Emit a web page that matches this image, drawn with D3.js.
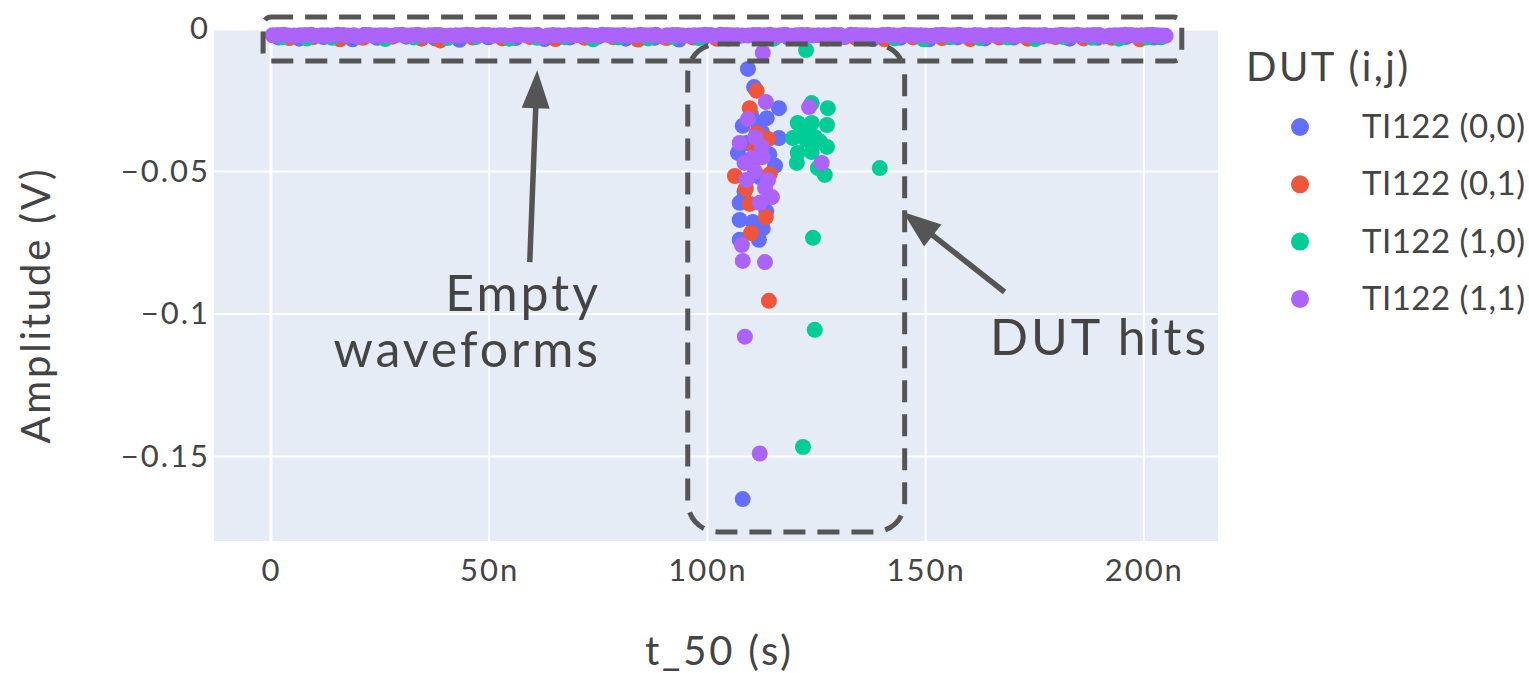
<!DOCTYPE html>
<html>
<head>
<meta charset="utf-8">
<script src="https://cdn.jsdelivr.net/npm/d3@7"></script>
<style>
  body { margin: 0; background: #fff; }
  svg text { font-family: Lato, "Open Sans", sans-serif; fill: #444; }
</style>
</head>
<body>
<div class="svg-container"></div>
<script>
// series names, in draw order
const seriesNames = ['TI122 (0,0)', 'TI122 (0,1)', 'TI122 (1,0)', 'TI122 (1,1)'];
const seriesColors = ['#636efa', '#ef553b', '#00cc96', '#ab63fa'];

// t_50 in ns, amplitude in V
const blueT = [1.8, 6.5, 12.1, 18.7, 24.3, 31.0, 37.6, 43.2, 49.8, 56.1, 62.7, 68.4, 75.0, 81.3, 87.9, 93.5, 99.2, 104.8, 118.6, 131.4, 137.9, 144.2, 150.8, 157.3, 163.6, 170.1, 176.7, 183.0, 189.4, 195.9, 202.3,
  109.3, 110.7, 116.4, 108.1, 113.6, 116.4, 107.0, 115.5, 107.4, 107.4, 110.4, 112.7, 111.8, 107.4, 108.1, 111.5, 109.0, 114.2, 112.0, 108.5, 113.5, 110.0, 112.5];
const blueA = [-0.0030, -0.0034, -0.0028, -0.0036, -0.0031, -0.0027, -0.0033, -0.0038, -0.0029, -0.0032, -0.0035, -0.0030, -0.0027, -0.0034, -0.0031, -0.0037, -0.0029, -0.0033, -0.0030, -0.0028, -0.0035, -0.0031, -0.0036, -0.0029, -0.0033, -0.0030, -0.0027, -0.0034, -0.0031, -0.0028, -0.0030,
  -0.0140, -0.0204, -0.0278, -0.0340, -0.0313, -0.0383, -0.0435, -0.0480, -0.0610, -0.0670, -0.0677, -0.0700, -0.0740, -0.0740, -0.1650, -0.0330, -0.0400, -0.0440, -0.0520, -0.0570, -0.0640, -0.0300, -0.0362];

const redT = [4.2, 9.6, 15.8, 21.1, 27.9, 34.5, 38.8, 46.3, 53.0, 59.4, 65.2, 71.9, 78.5, 84.1, 90.6, 96.8, 102.1, 121.3, 127.5, 134.0, 140.6, 147.1, 153.8, 160.2, 166.9, 173.4, 179.8, 186.2, 192.7, 199.1, 203.8,
  111.3, 109.7, 111.3, 113.9, 106.3, 114.3, 109.7, 113.4, 110.0, 114.1, 112.2, 108.8, 111.0];
const redA = [-0.0032, -0.0029, -0.0036, -0.0031, -0.0027, -0.0034, -0.0040, -0.0030, -0.0033, -0.0028, -0.0035, -0.0031, -0.0029, -0.0037, -0.0032, -0.0030, -0.0034, -0.0028, -0.0033, -0.0031, -0.0036, -0.0029, -0.0032, -0.0035, -0.0030, -0.0034, -0.0028, -0.0033, -0.0031, -0.0036, -0.0029,
  -0.0217, -0.0278, -0.0366, -0.0386, -0.0516, -0.0510, -0.0614, -0.0660, -0.0716, -0.0954, -0.0450, -0.0560, -0.0420];

const greenT = [2.6, 8.3, 14.0, 19.9, 26.2, 32.8, 40.5, 47.0, 54.6, 61.0, 67.3, 73.8, 79.6, 86.4, 92.2, 98.0, 106.5, 115.2, 129.8, 136.3, 142.9, 149.5, 155.6, 162.4, 168.8, 175.1, 181.6, 188.1, 194.3, 200.6, 204.0,
  122.6, 123.9, 127.6, 120.7, 123.9, 127.4, 119.6, 122.6, 124.6, 127.4, 120.7, 123.9, 120.5, 125.3, 126.9, 139.5, 124.2, 124.6, 121.9, 122.0, 125.8];
const greenA = [-0.0029, -0.0033, -0.0031, -0.0027, -0.0035, -0.0030, -0.0032, -0.0028, -0.0034, -0.0031, -0.0029, -0.0036, -0.0030, -0.0033, -0.0028, -0.0032, -0.0030, -0.0034, -0.0031, -0.0027, -0.0033, -0.0036, -0.0029, -0.0032, -0.0030, -0.0035, -0.0028, -0.0031, -0.0034, -0.0030, -0.0029,
  -0.0074, -0.0260, -0.0278, -0.0330, -0.0330, -0.0337, -0.0383, -0.0390, -0.0379, -0.0414, -0.0435, -0.0432, -0.0470, -0.0488, -0.0512, -0.0488, -0.0733, -0.1056, -0.1467, -0.0360, -0.0395];

const purpleT = [0.4, 2.9, 5.3, 7.8, 10.6, 12.9, 15.3, 17.7, 20.2, 22.6, 25.1, 27.4, 30.0, 32.3, 34.9, 37.5, 39.8, 42.4, 44.9, 47.3, 49.8, 52.4, 54.7, 57.2, 59.8, 62.3, 64.6, 67.2, 69.7, 72.1, 74.6, 77.2, 79.5, 82.1, 84.6, 87.0, 89.5, 92.1, 94.4, 97.0, 99.5, 101.9, 104.4, 106.8, 109.3, 111.8, 114.3, 116.7, 119.2, 121.6, 124.1, 126.7, 129.0, 131.6, 134.0, 136.5, 139.1, 141.4, 144.0, 146.5, 148.9, 151.4, 153.9, 156.3, 158.8, 161.3, 163.7, 166.2, 168.6, 171.2, 173.6, 176.1, 178.5, 181.0, 183.6, 185.9, 188.5, 190.9, 193.4, 195.8, 198.3, 200.8, 203.2, 205.0,
  112.7, 113.4, 109.3, 107.4, 112.5, 110.2, 112.7, 110.9, 109.0, 113.9, 113.2, 114.8, 112.0, 107.9, 108.1, 113.2, 123.3, 126.2, 108.6, 112.0, 111.0, 108.5];
const purpleA = [-0.0022, -0.0020, -0.0023, -0.0021, -0.0024, -0.0022, -0.0020, -0.0023, -0.0027, -0.0021,
  -0.0022, -0.0024, -0.0020, -0.0022, -0.0023, -0.0021, -0.0025, -0.0022, -0.0020, -0.0023,
  -0.0021, -0.0022, -0.0024, -0.0020, -0.0022, -0.0028, -0.0021, -0.0023, -0.0022, -0.0020,
  -0.0024, -0.0021, -0.0022, -0.0023, -0.0020, -0.0022, -0.0026, -0.0021, -0.0023, -0.0022,
  -0.0020, -0.0024, -0.0021, -0.0022, -0.0023, -0.0021, -0.0020, -0.0022, -0.0024, -0.0021,
  -0.0023, -0.0022, -0.0020, -0.0027, -0.0021, -0.0022, -0.0024, -0.0020, -0.0023, -0.0021,
  -0.0022, -0.0024, -0.0020, -0.0022, -0.0023, -0.0021, -0.0025, -0.0022, -0.0020, -0.0023,
  -0.0021, -0.0022, -0.0024, -0.0020, -0.0022, -0.0023, -0.0021, -0.0026, -0.0022, -0.0020,
  -0.0023, -0.0021, -0.0022, -0.0024,
  -0.0084, -0.0256, -0.0316, -0.0400, -0.0414, -0.0453, -0.0449, -0.0500, -0.0530, -0.0530, -0.0558, -0.0590, -0.0610, -0.0758, -0.0814, -0.0818, -0.0274, -0.0470, -0.1080, -0.1490, -0.0380, -0.0470];

// more empty-waveform points of (1,1), packed between the ones above
const purpleBandT = [1.6, 4.1, 6.6, 9.2, 11.7, 14.1, 16.5, 19.0, 21.4, 23.9,
  26.3, 28.7, 31.2, 33.6, 36.2, 38.6, 41.1, 43.7, 46.1, 48.6,
  51.1, 53.5, 56.0, 58.5, 61.0, 63.5, 65.9, 68.4, 70.9, 73.4,
  75.9, 78.3, 80.8, 83.3, 85.8, 88.2, 90.8, 93.2, 95.7, 98.2,
  100.7, 103.1, 105.6, 108.0, 110.6, 113.0, 115.5, 117.9, 120.4, 122.9,
  125.4, 127.8, 130.3, 132.8, 135.3, 137.8, 140.2, 142.7, 145.2, 147.7,
  150.1, 152.6, 155.1, 157.6, 160.0, 162.5, 164.9, 167.4, 169.9, 172.4,
  174.9, 177.3, 179.8, 182.3, 184.7, 187.2, 189.7, 192.2, 194.6, 197.1,
  199.5, 202.0, 204.3];
const purpleBandA = [-0.0021, -0.0023, -0.0022, -0.0020, -0.0022, -0.0023, -0.0021, -0.0022, -0.0020, -0.0023,
  -0.0022, -0.0021, -0.0023, -0.0020, -0.0022, -0.0021, -0.0023, -0.0022, -0.0021, -0.0020,
  -0.0023, -0.0022, -0.0021, -0.0022, -0.0020, -0.0023, -0.0022, -0.0021, -0.0022, -0.0023,
  -0.0020, -0.0022, -0.0021, -0.0023, -0.0022, -0.0020, -0.0022, -0.0021, -0.0023, -0.0022,
  -0.0021, -0.0020, -0.0022, -0.0023, -0.0021, -0.0022, -0.0023, -0.0020, -0.0022, -0.0021,
  -0.0022, -0.0023, -0.0021, -0.0020, -0.0022, -0.0023, -0.0021, -0.0022, -0.0020, -0.0022,
  -0.0023, -0.0021, -0.0022, -0.0020, -0.0023, -0.0022, -0.0021, -0.0022, -0.0023, -0.0020,
  -0.0022, -0.0021, -0.0023, -0.0022, -0.0020, -0.0022, -0.0021, -0.0023, -0.0022, -0.0021,
  -0.0022, -0.0020, -0.0023];

const xTicks = [0, 50e-9, 100e-9, 150e-9, 200e-9];
const yTicks = [0, -0.05, -0.1, -0.15];

const seriesT = [blueT, redT, greenT, purpleBandT.concat(purpleT)];
const seriesA = [blueA, redA, greenA, purpleBandA.concat(purpleA)];

function renderChart() {
  const width = 1529;
  const height = 673;
  const margin = { top: 29, right: 311, bottom: 132, left: 214 };
  const plotW = width - margin.left - margin.right;
  const plotH = height - margin.top - margin.bottom;

  const svg = d3.select('.svg-container')
    .append('svg')
    .attr('width', width)
    .attr('height', height);

  const x = d3.scaleLinear().domain([-13.05e-9, 217e-9]).range([margin.left, margin.left + plotW]);
  const y = d3.scaleLinear().domain([-0.1797, 0]).range([margin.top + plotH, margin.top]);

  // plot background
  svg.append('rect')
    .attr('x', margin.left).attr('y', margin.top)
    .attr('width', plotW).attr('height', plotH)
    .attr('fill', '#e5ecf6');

  // grid
  svg.append('g').selectAll('line')
    .data(xTicks)
    .enter().append('line')
    .attr('x1', d => x(d)).attr('x2', d => x(d))
    .attr('y1', margin.top).attr('y2', margin.top + plotH)
    .attr('stroke', '#fff')
    .attr('stroke-width', d => d === 0 ? 3 : 2);

  svg.append('g').selectAll('line')
    .data(yTicks)
    .enter().append('line')
    .attr('x1', margin.left).attr('x2', margin.left + plotW)
    .attr('y1', d => y(d)).attr('y2', d => y(d))
    .attr('stroke', '#fff')
    .attr('stroke-width', d => d === 0 ? 3 : 2);

  // axes (labels only)
  const xAxis = svg.append('g')
    .attr('transform', `translate(0,${margin.top + plotH})`)
    .call(d3.axisBottom(x).tickValues(xTicks).tickFormat(d => d === 0 ? '0' : d3.format('~s')(d)).tickSize(0).tickPadding(15));
  const yAxis = svg.append('g')
    .attr('transform', `translate(${margin.left},0)`)
    .call(d3.axisLeft(y).tickValues(yTicks).tickFormat(d => d === 0 ? '0' : d3.format('')(d)).tickSize(0).tickPadding(6));
  [xAxis, yAxis].forEach(a => {
    a.select('.domain').remove();
    a.selectAll('text').attr('font-size', 31).attr('letter-spacing', 2).attr('fill', '#444');
  });
  xAxis.selectAll('text').attr('dy', '0.8em');
  yAxis.selectAll('text').attr('dx', 2);

  // points
  seriesNames.forEach((name, i) => {
    const pts = seriesT[i].map((t, k) => ({ t: t * 1e-9, a: seriesA[i][k] }));
    svg.append('g').selectAll('circle')
      .data(pts)
      .enter().append('circle')
      .attr('cx', d => x(d.t))
      .attr('cy', d => y(d.a))
      .attr('r', 8)
      .attr('fill', seriesColors[i]);
  });

  // axis titles
  svg.append('text')
    .attr('x', x(100e-9) + 12).attr('y', 665)
    .attr('text-anchor', 'middle')
    .attr('font-size', 40)
    .attr('letter-spacing', 2.8)
    .text('t_50 (s)');
  svg.append('text')
    .attr('transform', `translate(50,${margin.top + plotH / 2 + 20}) rotate(-90)`)
    .attr('text-anchor', 'middle')
    .attr('font-size', 40)
    .attr('letter-spacing', 2.8)
    .text('Amplitude (V)');

  // legend
  const legend = svg.append('g');
  legend.append('text')
    .attr('x', 1246).attr('y', 81)
    .attr('font-size', 40)
    .attr('letter-spacing', 2.5)
    .text('DUT (i,j)');
  seriesNames.forEach((name, i) => {
    const ly = 127 + i * 57.3;
    legend.append('circle')
      .attr('cx', 1300).attr('cy', ly).attr('r', 9)
      .attr('fill', seriesColors[i]);
    legend.append('text')
      .attr('x', 1362).attr('y', ly + 11)
      .attr('font-size', 33)
      .attr('letter-spacing', 0.5)
      .text(name);
  });

  // annotations, placed in data units
  const ann = svg.append('g')
    .attr('fill', 'none')
    .attr('stroke', '#555')
    .attr('stroke-width', 5)
    .attr('stroke-dasharray', '22,12');

  const box1 = { t0: -1.8e-9, t1: 208.7e-9, a0: 0.0042, a1: -0.0112 };
  ann.append('rect')
    .attr('x', x(box1.t0)).attr('y', y(box1.a0))
    .attr('width', x(box1.t1) - x(box1.t0)).attr('height', y(box1.a1) - y(box1.a0))
    .attr('rx', 8);

  const box2 = { t0: 95.5e-9, t1: 145.2e-9, a0: -0.0053, a1: -0.1765 };
  ann.append('rect')
    .attr('x', x(box2.t0)).attr('y', y(box2.a0))
    .attr('width', x(box2.t1) - x(box2.t0)).attr('height', y(box2.a1) - y(box2.a0))
    .attr('rx', 30);

  const arrows = [
    { t0: 59.3e-9, a0: -0.0818, t1: 61.0e-9, a1: -0.0145 },
    { t0: 168.1e-9, a0: -0.0923, t1: 144.8e-9, a1: -0.0642 }
  ];
  const headLen = 38;
  const headW = 28;
  arrows.forEach(d => {
    const x0 = x(d.t0), y0 = y(d.a0), x1 = x(d.t1), y1 = y(d.a1);
    const len = Math.hypot(x1 - x0, y1 - y0);
    const ux = (x1 - x0) / len, uy = (y1 - y0) / len;
    const bx = x1 - ux * headLen, by = y1 - uy * headLen;
    svg.append('line')
      .attr('x1', x0).attr('y1', y0)
      .attr('x2', bx + ux * 2).attr('y2', by + uy * 2)
      .attr('stroke', '#555')
      .attr('stroke-width', 5.5);
    svg.append('path')
      .attr('d', `M${x1},${y1} L${bx - uy * headW / 2},${by + ux * headW / 2} L${bx + uy * headW / 2},${by - ux * headW / 2} Z`)
      .attr('fill', '#555');
  });

  const notes = svg.append('g').attr('font-size', 50).attr('letter-spacing', 3);
  notes.append('text').attr('x', 601).attr('y', 311).attr('text-anchor', 'end').attr('fill', '#555').text('Empty');
  notes.append('text').attr('x', 601).attr('y', 367).attr('text-anchor', 'end').attr('fill', '#555').text('waveforms');
  notes.append('text').attr('x', 990).attr('y', 355).attr('fill', '#555').text('DUT hits');
}

renderChart();
</script>
</body>
</html>
